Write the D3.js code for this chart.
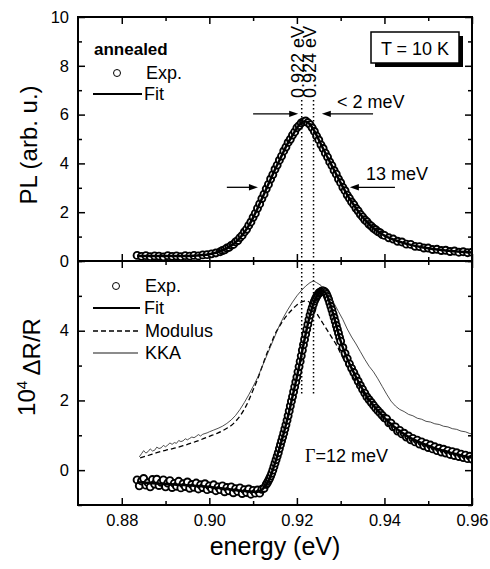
<!DOCTYPE html>
<html>
<head>
<meta charset="utf-8">
<script src="https://cdn.jsdelivr.net/npm/d3@7"></script>
<style>
body { margin: 0; background: #fff; }
svg text { font-family: "Liberation Sans", Arial, sans-serif; fill: #000; }
</style>
</head>
<body>
<div id="chart"></div>
<script>
// ---- data (energy in eV) ----
const xMajor = [0.88, 0.90, 0.92, 0.94, 0.96];
const xMinor = [0.89, 0.91, 0.93, 0.95];
const plMajor = [0, 2, 4, 6, 8, 10];
const plMinor = [1, 3, 5, 7, 9];
const drMajor = [0, 2, 4];
const drMinor = [-1, 1, 3, 5, 6];

const peakLines = [0.9211, 0.9238];
const peakLabels = ["0.922 eV", "0.924 eV"];

const plExp = [
  [0.8835,0.23],[0.8845,0.19],[0.8855,0.22],[0.8865,0.18],[0.8875,0.21],[0.8885,0.20],[0.8895,0.17],[0.8905,0.22],
  [0.8915,0.19],[0.8925,0.21],[0.8935,0.18],[0.8945,0.22],[0.8955,0.20],[0.8965,0.23],[0.8975,0.21],[0.8985,0.25],
  [0.8995,0.26],[0.9005,0.29],[0.9015,0.33],[0.9025,0.38],
  [0.9030,0.43],[0.9035,0.46],[0.9040,0.53],[0.9045,0.56],[0.9050,0.64],[0.9055,0.68],[0.9060,0.78],[0.9065,0.84],
  [0.9070,0.96],[0.9075,1.05],[0.9080,1.19],[0.9085,1.30],[0.9090,1.46],[0.9095,1.60],[0.9100,1.79],[0.9105,1.95],
  [0.9110,2.16],[0.9115,2.34],[0.9120,2.56],[0.9125,2.74],[0.9130,2.96],[0.9135,3.14],[0.9140,3.36],[0.9145,3.54],
  [0.9150,3.76],[0.9155,3.93],[0.9160,4.13],[0.9165,4.30],[0.9170,4.51],[0.9175,4.67],[0.9180,4.86],[0.9185,4.99],
  [0.9190,5.16],[0.9195,5.29],[0.9200,5.46],[0.9205,5.55],[0.9210,5.66],[0.9215,5.71],[0.9220,5.74],[0.9225,5.67],
  [0.9230,5.59],[0.9235,5.46],[0.9240,5.31],[0.9245,5.12],[0.9250,4.96],[0.9255,4.76],[0.9260,4.61],[0.9265,4.42],
  [0.9270,4.26],[0.9275,4.06],[0.9280,3.91],[0.9285,3.71],[0.9290,3.56],[0.9295,3.36],[0.9300,3.21],[0.9305,3.02],
  [0.9310,2.88],[0.9315,2.70],[0.9320,2.57],[0.9325,2.42],[0.9330,2.31],[0.9335,2.16],[0.9340,2.05],[0.9345,1.91],
  [0.9350,1.81],[0.9355,1.69],[0.9360,1.61],[0.9365,1.50],[0.9370,1.43],[0.9375,1.34],[0.9380,1.28],[0.9385,1.20],
  [0.9390,1.16],[0.9395,1.08],[0.9400,1.05],
  [0.9410,0.95],[0.9420,0.90],[0.9430,0.81],[0.9440,0.78],[0.9450,0.69],[0.9460,0.68],[0.9470,0.60],[0.9480,0.59],
  [0.9490,0.53],[0.9500,0.53],[0.9510,0.47],[0.9520,0.48],[0.9530,0.43],[0.9540,0.44],[0.9550,0.39],[0.9560,0.41],
  [0.9570,0.36],[0.9580,0.38],[0.9590,0.34],[0.9600,0.36]
];

const plFit = [
  [0.8835,0.20],[0.890,0.20],[0.895,0.21],[0.898,0.24],[0.900,0.28],[0.902,0.37],[0.904,0.52],[0.905,0.63],
  [0.906,0.77],[0.907,0.95],[0.908,1.18],[0.909,1.45],[0.910,1.78],[0.911,2.15],[0.912,2.55],[0.913,2.95],
  [0.914,3.35],[0.915,3.75],[0.916,4.12],[0.917,4.50],[0.918,4.85],[0.919,5.15],[0.920,5.45],[0.921,5.65],
  [0.9215,5.72],[0.922,5.72],[0.923,5.60],[0.924,5.32],[0.925,4.97],[0.926,4.60],[0.927,4.25],[0.928,3.90],
  [0.929,3.55],[0.930,3.20],[0.931,2.87],[0.932,2.56],[0.933,2.30],[0.934,2.04],[0.935,1.80],[0.936,1.60],
  [0.937,1.42],[0.938,1.27],[0.939,1.15],[0.940,1.04],[0.942,0.88],[0.944,0.76],[0.946,0.66],[0.948,0.58],
  [0.950,0.52],[0.952,0.47],[0.954,0.43],[0.956,0.40],[0.958,0.37],[0.960,0.35]
];

const drExp = [
  [0.8835,-0.28],[0.8840,-0.45],[0.8845,-0.31],[0.8850,-0.24],[0.8855,-0.43],[0.8860,-0.36],[0.8865,-0.48],[0.8870,-0.27],
  [0.8875,-0.40],[0.8880,-0.26],[0.8885,-0.44],[0.8890,-0.35],[0.8895,-0.28],[0.8900,-0.48],[0.8905,-0.37],[0.8910,-0.30],
  [0.8915,-0.50],[0.8920,-0.38],[0.8925,-0.46],[0.8930,-0.32],[0.8935,-0.51],[0.8940,-0.39],[0.8945,-0.47],[0.8950,-0.34],
  [0.8955,-0.52],[0.8960,-0.41],[0.8965,-0.49],[0.8970,-0.37],[0.8975,-0.54],[0.8980,-0.42],[0.8985,-0.50],[0.8990,-0.39],
  [0.8995,-0.56],[0.9000,-0.45],[0.9005,-0.53],[0.9010,-0.42],[0.9015,-0.59],[0.9020,-0.48],[0.9025,-0.56],[0.9030,-0.45],
  [0.9035,-0.62],[0.9040,-0.50],[0.9045,-0.59],[0.9050,-0.48],[0.9055,-0.65],[0.9060,-0.53],[0.9065,-0.61],[0.9070,-0.51],
  [0.9075,-0.67],[0.9080,-0.56],[0.9085,-0.64],[0.9090,-0.54],[0.9095,-0.69],[0.9100,-0.58],[0.9105,-0.66],[0.9110,-0.57],
  [0.9115,-0.66],[0.9120,-0.55],[0.9125,-0.52],[0.9130,-0.41],
  [0.91325,-0.36],[0.9135,-0.30],[0.91375,-0.24],[0.9140,-0.17],[0.91425,-0.09],[0.9145,0.00],[0.91475,0.10],[0.9150,0.20],
  [0.91525,0.30],[0.9155,0.40],[0.91575,0.50],[0.9160,0.62],[0.91625,0.73],[0.9165,0.84],[0.91675,0.95],[0.9170,1.06],
  [0.91725,1.18],[0.9175,1.30],[0.91775,1.43],[0.9180,1.56],[0.91825,1.70],[0.9185,1.84],[0.91875,1.98],[0.9190,2.11],
  [0.91925,2.25],[0.9195,2.39],[0.91975,2.53],[0.9200,2.67],[0.92025,2.82],[0.9205,2.97],[0.92075,3.12],[0.9210,3.28],
  [0.92125,3.44],[0.9215,3.60],[0.92175,3.75],[0.9220,3.90],[0.92225,4.04],[0.9225,4.18],[0.92275,4.32],[0.9230,4.45],
  [0.92325,4.56],[0.9235,4.66],[0.92375,4.76],[0.9240,4.85],[0.92425,4.92],[0.9245,4.98],[0.92475,5.03],[0.9250,5.08],
  [0.92525,5.10],[0.9255,5.12],[0.92575,5.14],[0.9260,5.14],[0.92625,5.13],[0.9265,5.10],[0.92675,5.05],[0.9270,4.98],
  [0.92725,4.90],[0.9275,4.80],[0.92775,4.70],[0.9280,4.60],[0.92825,4.49],[0.9285,4.38],[0.92875,4.27],[0.9290,4.15],
  [0.92925,4.04],[0.9295,3.93],[0.92975,3.81],[0.9300,3.70],
  [0.9305,3.52],[0.9310,3.35],[0.9315,3.20],[0.9320,3.05],[0.9325,2.92],[0.9330,2.80],[0.9335,2.67],[0.9340,2.55],
  [0.9345,2.43],[0.9350,2.32],[0.9355,2.21],[0.9360,2.10],[0.9365,2.02],[0.9370,1.94],[0.9375,1.86],[0.9380,1.78],
  [0.9385,1.71],[0.9390,1.64],[0.9395,1.57],[0.9400,1.50],
  [0.9405,1.47],[0.9410,1.36],[0.9415,1.35],[0.9420,1.24],[0.9425,1.24],[0.9430,1.12],[0.9435,1.14],[0.9440,1.04],
  [0.9445,1.06],[0.9450,0.95],[0.9455,0.98],[0.9460,0.87],[0.9465,0.91],[0.9470,0.81],[0.9475,0.86],[0.9480,0.75],
  [0.9485,0.81],[0.9490,0.70],[0.9495,0.76],[0.9500,0.65],[0.9505,0.72],[0.9510,0.61],[0.9515,0.67],[0.9520,0.56],
  [0.9525,0.63],[0.9530,0.52],[0.9535,0.60],[0.9540,0.49],[0.9545,0.56],[0.9550,0.45],[0.9555,0.53],[0.9560,0.42],
  [0.9565,0.50],[0.9570,0.39],[0.9575,0.46],[0.9580,0.36],[0.9585,0.43],[0.9590,0.33],[0.9595,0.40],[0.9600,0.32]
];

const drFit = [
  [0.8835,-0.35],[0.888,-0.38],[0.892,-0.41],[0.896,-0.44],[0.900,-0.48],[0.904,-0.54],[0.908,-0.60],[0.910,-0.62],
  [0.911,-0.62],[0.912,-0.56],[0.913,-0.42],[0.914,-0.17],[0.915,0.20],[0.916,0.62],[0.917,1.06],[0.918,1.56],
  [0.919,2.11],[0.920,2.67],[0.921,3.28],[0.922,3.90],[0.923,4.45],[0.924,4.85],[0.925,5.08],[0.926,5.14],
  [0.927,4.98],[0.928,4.60],[0.929,4.15],[0.930,3.70],[0.931,3.35],[0.932,3.05],[0.933,2.80],[0.934,2.55],
  [0.935,2.32],[0.936,2.10],[0.937,1.94],[0.938,1.78],[0.939,1.64],[0.940,1.50],[0.942,1.27],[0.944,1.08],
  [0.946,0.92],[0.948,0.80],[0.950,0.70],[0.952,0.61],[0.954,0.54],[0.956,0.47],[0.958,0.41],[0.960,0.36]
];

const drModulus = [
  [0.8842,0.35],[0.886,0.42],[0.888,0.50],[0.890,0.57],[0.892,0.63],[0.894,0.70],[0.896,0.78],[0.898,0.87],
  [0.900,0.97],[0.902,1.07],[0.904,1.20],[0.905,1.28],[0.906,1.40],[0.907,1.55],[0.908,1.75],[0.909,2.00],
  [0.910,2.30],[0.911,2.60],[0.912,2.95],[0.913,3.30],[0.914,3.60],[0.915,3.90],[0.916,4.12],[0.917,4.32],
  [0.918,4.48],[0.919,4.62],[0.920,4.74],[0.921,4.82],[0.922,4.86],[0.923,4.80],[0.924,4.62],[0.925,4.40],
  [0.926,4.20],[0.927,4.00],[0.928,3.80],[0.929,3.60],[0.930,3.35],[0.931,3.10],[0.932,2.85],[0.934,2.45],
  [0.936,2.05],[0.938,1.75],[0.940,1.48],[0.943,1.15],[0.946,0.90],[0.949,0.74],[0.952,0.60],[0.955,0.50],
  [0.958,0.40],[0.960,0.34]
];

const drKka = [
  [0.8840,0.38],[0.8845,0.47],[0.8850,0.56],[0.8855,0.49],[0.8860,0.53],[0.8865,0.61],[0.8870,0.55],[0.8875,0.57],
  [0.8880,0.66],[0.8885,0.62],[0.8890,0.64],[0.8895,0.71],[0.8900,0.67],[0.8905,0.72],[0.8910,0.78],[0.8915,0.74],
  [0.8920,0.79],[0.8925,0.77],[0.8930,0.85],[0.8935,0.82],[0.8940,0.84],[0.8945,0.90],[0.8950,0.87],[0.8955,0.91],
  [0.8960,0.95],[0.8965,0.93],[0.8970,0.97],[0.8975,1.02],[0.8980,0.98],[0.8985,1.03],[0.8990,1.05],[0.8995,1.07],
  [0.9000,1.10],[0.9010,1.15],[0.9020,1.20],[0.9030,1.26],[0.9040,1.34],[0.9050,1.44],[0.9060,1.57],[0.9070,1.74],
  [0.9080,1.94],[0.9090,2.16],[0.9100,2.40],[0.9110,2.65],[0.9120,2.95],[0.9130,3.25],[0.9140,3.55],[0.9150,3.85],
  [0.9160,4.15],[0.9170,4.40],[0.9180,4.62],[0.9190,4.82],[0.9200,5.00],[0.9210,5.15],[0.9220,5.28],[0.9230,5.38],
  [0.9238,5.43],[0.9245,5.38],[0.9255,5.30],[0.9265,5.15],[0.9275,4.98],[0.9285,4.78],[0.9295,4.55],[0.9305,4.32],
  [0.9315,4.05],[0.9325,3.82],[0.9335,3.62],[0.9345,3.40],[0.9355,3.18],[0.9365,2.98],[0.9375,2.82],[0.9385,2.62],
  [0.9395,2.40],[0.9405,2.18],[0.9415,1.98],[0.9425,1.84],[0.9435,1.74],[0.9445,1.68],[0.9455,1.60],[0.9465,1.56],
  [0.9475,1.49],[0.9485,1.46],[0.9495,1.40],[0.9505,1.38],[0.9515,1.33],[0.9525,1.31],[0.9535,1.26],[0.9545,1.24],
  [0.9555,1.19],[0.9565,1.17],[0.9575,1.12],[0.9585,1.10],[0.9595,1.05],[0.9600,1.04]
];

// ---- layout ----
const width = 490, height = 569;
const plotLeft = 78, plotRight = 472, plotTop = 17, plotMid = 261, plotBottom = 505;
const tickFont = "16.5px";

const svg = d3.select("#chart").append("svg")
    .attr("width", width)
    .attr("height", height);

const x = d3.scaleLinear().domain([0.87, 0.96]).range([plotLeft, plotRight]);
const yTop = d3.scaleLinear().domain([0, 10]).range([plotMid, plotTop]);
const yBot = d3.scaleLinear().domain([-1, 6]).range([plotBottom, plotMid]);

function styleAxis(g) {
    g.select(".domain").remove();
    g.selectAll(".tick line").attr("stroke", "#000").attr("stroke-width", 1.5);
    g.selectAll(".tick text").style("font-size", tickFont).attr("fill", "#000");
}

// inward ticks on all four sides of a panel
function panelAxes(y, yMaj, yMin, showX) {
    const y0 = y.range()[0], y1 = y.range()[1];
    const sets = [[xMajor, 7], [xMinor, 4]];
    sets.forEach(([vals, len], i) => {
        svg.append("g").attr("transform", `translate(0,${y0})`)
            .call(d3.axisBottom(x).tickValues(vals).tickSize(-len).tickPadding(9)
                .tickFormat(showX && i === 0 ? d3.format(".2f") : ""))
            .call(styleAxis);
        svg.append("g").attr("transform", `translate(0,${y1})`)
            .call(d3.axisTop(x).tickValues(vals).tickSize(-len).tickFormat(""))
            .call(styleAxis);
    });
    [[yMaj, 7], [yMin, 4]].forEach(([vals, len], i) => {
        svg.append("g").attr("transform", `translate(${plotLeft},0)`)
            .call(d3.axisLeft(y).tickValues(vals).tickSize(-len).tickPadding(9)
                .tickFormat(i === 0 ? d3.format("d") : ""))
            .call(styleAxis);
        svg.append("g").attr("transform", `translate(${plotRight},0)`)
            .call(d3.axisRight(y).tickValues(vals).tickSize(-len).tickFormat(""))
            .call(styleAxis);
    });
}

panelAxes(yTop, plMajor, plMinor, false);
panelAxes(yBot, drMajor, drMinor, true);

// clip
svg.append("clipPath").attr("id", "clipTop")
    .append("rect").attr("x", plotLeft).attr("y", plotTop)
    .attr("width", plotRight - plotLeft).attr("height", plotMid - plotTop);
svg.append("clipPath").attr("id", "clipBot")
    .append("rect").attr("x", plotLeft).attr("y", plotMid)
    .attr("width", plotRight - plotLeft).attr("height", plotBottom - plotMid);

// ---- top panel: PL ----
const gTop = svg.append("g").attr("clip-path", "url(#clipTop)");
gTop.selectAll("circle")
    .data(plExp)
    .enter().append("circle")
    .attr("cx", d => x(d[0]))
    .attr("cy", d => yTop(d[1]))
    .attr("r", 3.5)
    .attr("fill", "#fff")
    .attr("stroke", "#000")
    .attr("stroke-width", 1.9);

const lineTop = d3.line().x(d => x(d[0])).y(d => yTop(d[1])).curve(d3.curveMonotoneX);
gTop.append("path")
    .attr("d", lineTop(plFit))
    .attr("fill", "none")
    .attr("stroke", "#000")
    .attr("stroke-width", 2.5);

// ---- bottom panel: dR/R ----
const gBot = svg.append("g").attr("clip-path", "url(#clipBot)");
const lineBot = d3.line().x(d => x(d[0])).y(d => yBot(d[1]));

gBot.selectAll("circle")
    .data(drExp)
    .enter().append("circle")
    .attr("cx", d => x(d[0]))
    .attr("cy", d => yBot(d[1]))
    .attr("r", 3.5)
    .attr("fill", "#fff")
    .attr("stroke", "#000")
    .attr("stroke-width", 1.9);

gBot.append("path")
    .attr("d", lineBot.curve(d3.curveMonotoneX)(drFit))
    .attr("fill", "none")
    .attr("stroke", "#000")
    .attr("stroke-width", 2.5);

gBot.append("path")
    .attr("d", lineBot.curve(d3.curveMonotoneX)(drModulus))
    .attr("fill", "none")
    .attr("stroke", "#000")
    .attr("stroke-width", 1.3)
    .attr("stroke-dasharray", "5,3");

gBot.append("path")
    .attr("d", lineBot.curve(d3.curveLinear)(drKka))
    .attr("fill", "none")
    .attr("stroke", "#222")
    .attr("stroke-width", 0.8);

// frame
svg.append("rect")
    .attr("x", plotLeft).attr("y", plotTop)
    .attr("width", plotRight - plotLeft).attr("height", plotBottom - plotTop)
    .attr("fill", "none").attr("stroke", "#000").attr("stroke-width", 2);
svg.append("line")
    .attr("x1", plotLeft).attr("x2", plotRight)
    .attr("y1", plotMid).attr("y2", plotMid)
    .attr("stroke", "#000").attr("stroke-width", 2);

// peak position markers
peakLines.forEach((e, i) => {
    svg.append("line")
        .attr("x1", x(e)).attr("x2", x(e))
        .attr("y1", yTop(6.6)).attr("y2", yBot(2.2))
        .attr("stroke", "#000")
        .attr("stroke-width", 1.5)
        .attr("stroke-dasharray", "1.5,2.5");
    svg.append("text")
        .attr("transform", `translate(${x(e) + 2.5},98) rotate(-90)`)
        .style("font-size", "18px")
        .text(peakLabels[i]);
});

// arrows
function arrow(e1, e2, v) {
    const x1 = x(e1), x2 = x(e2), yy = yTop(v);
    const dir = x2 > x1 ? 1 : -1;
    svg.append("line")
        .attr("x1", x1).attr("x2", x2 - dir * 6)
        .attr("y1", yy).attr("y2", yy)
        .attr("stroke", "#000").attr("stroke-width", 1.3);
    svg.append("path")
        .attr("d", `M${x2},${yy} L${x2 - dir * 9},${yy - 3.2} L${x2 - dir * 9},${yy + 3.2} Z`)
        .attr("fill", "#000");
}
arrow(0.9100, 0.9203, 6.03);
arrow(0.9374, 0.9257, 6.03);
arrow(0.9040, 0.9111, 3.02);
arrow(0.9424, 0.9321, 3.02);

svg.append("text").attr("x", 337).attr("y", 108).style("font-size", "18px").text("< 2 meV");
svg.append("text").attr("x", 366).attr("y", 180).style("font-size", "18px").text("13 meV");

// temperature box
svg.append("rect").attr("x", 375).attr("y", 36).attr("width", 88).attr("height", 31).attr("fill", "#000");
svg.append("rect").attr("x", 371).attr("y", 32).attr("width", 88).attr("height", 31)
    .attr("fill", "#fff").attr("stroke", "#000").attr("stroke-width", 1.5);
svg.append("text").attr("x", 415).attr("y", 55).style("font-size", "18px")
    .style("text-anchor", "middle").text("T = 10 K");

// top legend
svg.append("text").attr("x", 94).attr("y", 55).style("font-size", "17px")
    .style("font-weight", "bold").text("annealed");
svg.append("circle").attr("cx", 117).attr("cy", 73).attr("r", 3.5)
    .attr("fill", "#fff").attr("stroke", "#000").attr("stroke-width", 1);
svg.append("text").attr("x", 146).attr("y", 79).style("font-size", "18px").text("Exp.");
svg.append("line").attr("x1", 93).attr("x2", 142).attr("y1", 94).attr("y2", 94)
    .attr("stroke", "#000").attr("stroke-width", 2.2);
svg.append("text").attr("x", 144).attr("y", 100).style("font-size", "18px").text("Fit");

// bottom legend
svg.append("circle").attr("cx", 116).attr("cy", 286).attr("r", 3.5)
    .attr("fill", "#fff").attr("stroke", "#000").attr("stroke-width", 1);
svg.append("text").attr("x", 145).attr("y", 292).style("font-size", "18px").text("Exp.");
svg.append("line").attr("x1", 93).attr("x2", 140).attr("y1", 308).attr("y2", 308)
    .attr("stroke", "#000").attr("stroke-width", 2.2);
svg.append("text").attr("x", 144).attr("y", 314).style("font-size", "18px").text("Fit");
svg.append("line").attr("x1", 93).attr("x2", 138).attr("y1", 331).attr("y2", 331)
    .attr("stroke", "#000").attr("stroke-width", 1.5).attr("stroke-dasharray", "5,3");
svg.append("text").attr("x", 145).attr("y", 337).style("font-size", "18px").text("Modulus");
svg.append("line").attr("x1", 93).attr("x2", 138).attr("y1", 353).attr("y2", 353)
    .attr("stroke", "#666").attr("stroke-width", 1.5);
svg.append("text").attr("x", 145).attr("y", 359).style("font-size", "18px").text("KKA");

// broadening label
const gam = svg.append("text").attr("x", 305).attr("y", 462).style("font-size", "18px");
gam.append("tspan").style("font-family", "'Liberation Serif', serif").text("Γ");
gam.append("tspan").text("=12 meV");

// axis titles
svg.append("text")
    .attr("x", -145).attr("y", 37)
    .attr("transform", "rotate(-90)")
    .style("font-size", "24px")
    .style("text-anchor", "middle")
    .text("PL (arb. u.)");

const yl = svg.append("text")
    .attr("x", -367).attr("y", 35)
    .attr("transform", "rotate(-90)")
    .style("font-size", "24px")
    .style("text-anchor", "middle");
yl.append("tspan").text("10");
yl.append("tspan").attr("dy", "-0.55em").style("font-size", "15px").text("4");
yl.append("tspan").attr("dy", "0.55em").text(" ΔR/R");

svg.append("text")
    .attr("x", 275).attr("y", 555)
    .style("font-size", "25px")
    .style("text-anchor", "middle")
    .text("energy (eV)");
</script>
</body>
</html>
